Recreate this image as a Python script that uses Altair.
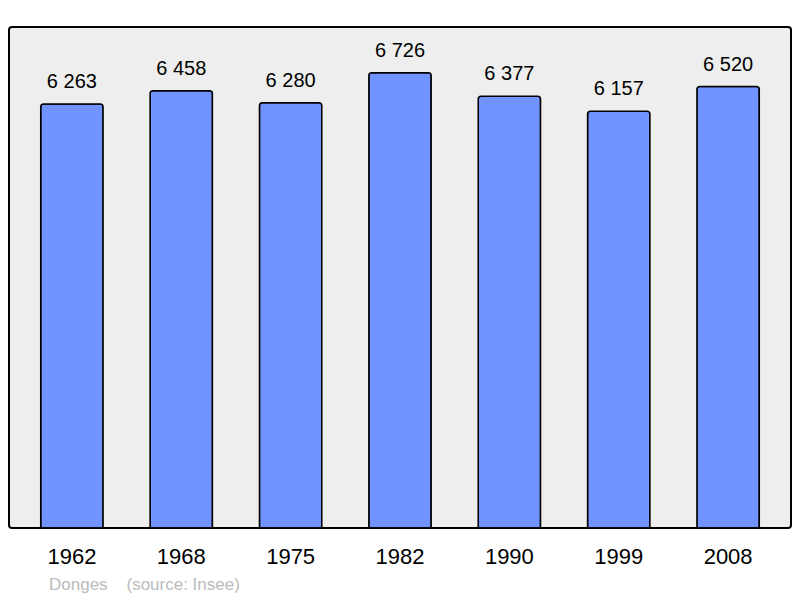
import altair as alt
import pandas as pd

years = ["1962", "1968", "1975", "1982", "1990", "1999", "2008"]
population = [6263, 6458, 6280, 6726, 6377, 6157, 6520]
labels = ["6 263", "6 458", "6 280", "6 726", "6 377", "6 157", "6 520"]

df = pd.DataFrame({"year": years, "pop": population, "label": labels})

x = alt.X("year:N", sort=years, title=None,
          scale=alt.Scale(paddingInner=0.43, paddingOuter=0.29),
          axis=alt.Axis(labelAngle=0, labelFontSize=22, labelPadding=18, domain=False,
                        ticks=False, labelColor="#000000", labelFont="Liberation Sans"))
y = alt.Y("pop:Q", title=None, scale=alt.Scale(domain=[0, 7400], nice=False),
          axis=None)

bars = alt.Chart(df).mark_bar(color="#7093ff", stroke="#000000", strokeWidth=1.5,
                              cornerRadiusTopLeft=3, cornerRadiusTopRight=3).encode(x=x, y=y)
text = alt.Chart(df).mark_text(fontSize=20, dy=-22, font="Liberation Sans",
                               color="#000000").encode(x=x, y=y, text="label:N")

chart = (bars + text).properties(
    width=782, height=501,
    padding={"left": 1, "right": 1, "top": 19, "bottom": 0},
    title=alt.TitleParams(
        text="Donges\u00a0\u00a0\u00a0\u00a0(source: Insee)",
        orient="bottom", anchor="start", dx=40, offset=10,
        fontSize=17, fontWeight="normal", color="#bbbbbb", font="Liberation Sans"),
).configure_view(fill="#eeeeee", stroke="#000000", strokeWidth=2, cornerRadius=3)

chart.save("out.html", embed_options={"renderer": "svg", "actions": False})
